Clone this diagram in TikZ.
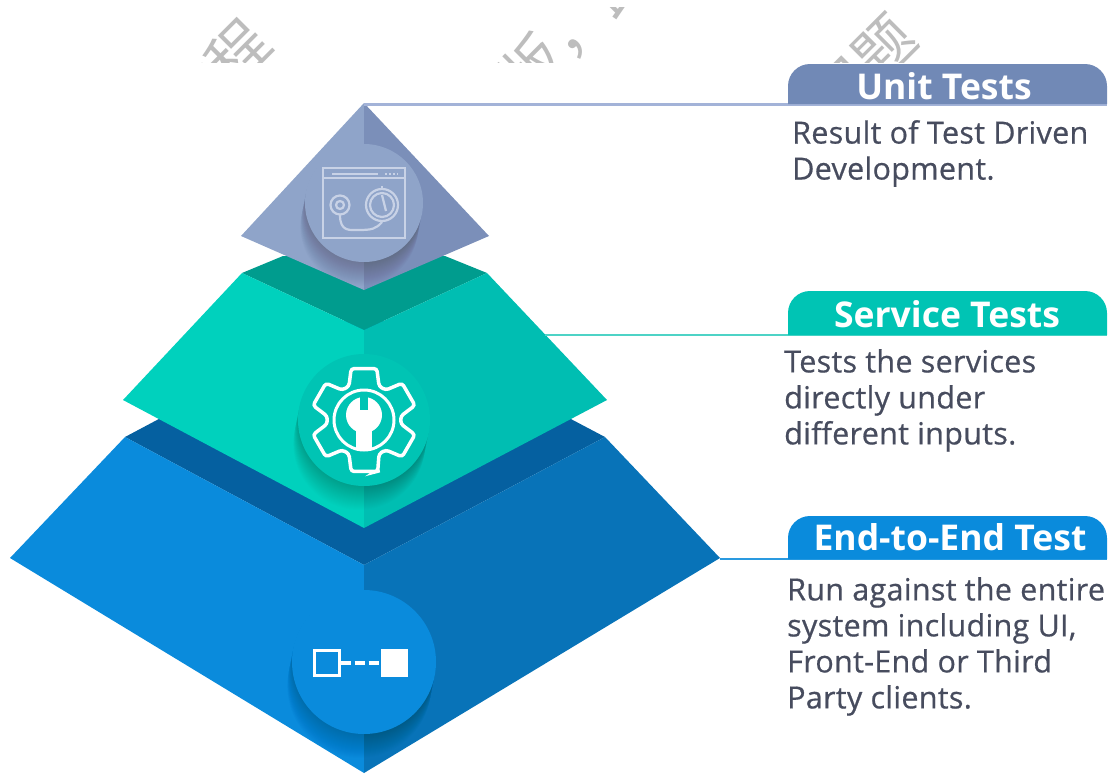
\documentclass[tikz,border=0pt]{standalone}
\usepackage{fontspec}
\setmainfont{Open Sans}
\newfontfamily\blurbfont{Open Sans}[FakeBold=0.6,LetterSpace=1]
\newfontfamily\cjkfont{Noto Sans CJK SC}
\usepackage{tikz}
\definecolor{unitlight}{HTML}{8FA4C9}
\definecolor{unitdark}{HTML}{7B8FB9}
\definecolor{unittag}{HTML}{7189B6}
\definecolor{unitline}{HTML}{A3B3D8}
\definecolor{unitband}{HTML}{C8D2E6}
\definecolor{servlight}{HTML}{00D1BD}
\definecolor{servdark}{HTML}{00BEB2}
\definecolor{servband}{HTML}{009C8E}
\definecolor{servdisc}{HTML}{00C4B4}
\definecolor{servline}{HTML}{4DD3C6}
\definecolor{endlight}{HTML}{0A8BDC}
\definecolor{enddark}{HTML}{0873B8}
\definecolor{endband}{HTML}{0560A0}
\definecolor{endline}{HTML}{2A9AE0}
\definecolor{bodytext}{HTML}{474C5E}

\begin{document}
\begin{tikzpicture}
    [ x=1pt, y=-1pt
    , heading/.style={text=white, font=\fontsize{35.5}{35.5}\selectfont\bfseries, anchor=center}
    , blurb/.style={text=bodytext, font=\fontsize{30.5}{36}\selectfont\blurbfont, align=left, anchor=north west, inner sep=0pt, text depth=0pt}
    , faint/.style={text=black!26, rotate=45, font=\fontsize{60}{60}\selectfont\cjkfont}
    , iconline/.style={draw=unitband, line width=2.2pt}
    , iconbox/.style={draw=white, line width=2.4pt, minimum size=25pt, inner sep=0pt}
    ]
\useasboundingbox (0,0) rectangle (1111,774);

% faint marks along the top
\begin{scope}
  \clip (150,7) rectangle (950,62);
  \node[faint] (markone) at (216,73) {教程};
  \node[faint] (marktwo) at (575,25) {版，此};
  \node[faint] (markthree) at (863,69) {问题};
\end{scope}

% lowest tier
\fill[endband] (125,437) -- (364,310) -- (605,437) -- (364,565) -- cycle;
\fill[endlight] (125,437) -- (10,558) -- (364,773) -- (364,565) -- cycle;
\fill[enddark] (364,565) -- (605,437) -- (720,558) -- (364,773) -- cycle;
\begin{scope}
  \clip (10,558) -- (364,343) -- (720,558) -- (364,773) -- cycle;
  \foreach \r in {1,...,24}
    \fill[black, opacity=0.007] (364-0.2*\r,662+\r) circle[radius=72pt];
  \fill[endlight] (364,662) circle[radius=72pt];
\end{scope}

% middle tier
\fill[servband] (242,273) -- (283,256) -- (445,256) -- (487,273) -- (364,330) -- cycle;
\fill[servlight] (242,273) -- (123,400) -- (364,528) -- (364,330) -- cycle;
\fill[servdark] (364,330) -- (487,273) -- (607,400) -- (364,528) -- cycle;
\begin{scope}
  \clip (123,400) -- (242,273) -- (364,330) -- (487,273) -- (607,400) -- (364,528) -- cycle;
  \foreach \r in {1,...,24}
    \fill[black, opacity=0.006] (364-0.2*\r,420+\r) circle[radius=66pt];
  \fill[servdisc] (364,420) circle[radius=66pt];
\end{scope}

% top tier
\fill[unitlight] (364,103) -- (241,236) -- (364,290) -- cycle;
\fill[unitdark] (364,103) -- (489,236) -- (364,290) -- cycle;
\begin{scope}
  \clip (364,103) -- (241,236) -- (364,290) -- (489,236) -- cycle;
  \foreach \r in {1,...,24}
    \fill[black, opacity=0.007] (364-0.2*\r,203+\r) circle[radius=59pt];
  \fill[unitlight] (364,203) circle[radius=59pt];
\end{scope}

% labels on the right
\coordinate (unitfoot) at (1107,104.5);
\coordinate (servfoot) at (1107,335);
\coordinate (endfoot) at (1107,559);
\coordinate (unittip) at (364,104.5);
\coordinate (servtip) at (545,335);
\coordinate (endtip) at (720,559);
\draw[unitline, line width=3pt] (unittip) -- (unitfoot);
\draw[servline, line width=2.5pt] (servtip) -- (servfoot);
\draw[endline, line width=2.5pt] (endtip) -- (endfoot);
\fill[unittag] (788,104) [rounded corners=22pt] -- (788,64) -- (1107,64) [sharp corners] -- (1107,104) -- cycle;
\fill[servdisc] (788,335) [rounded corners=22pt] -- (788,291) -- (1107,291) [sharp corners] -- (1107,335) -- cycle;
\fill[endlight] (788,559) [rounded corners=22pt] -- (788,516) -- (1107,516) [sharp corners] -- (1107,559) -- cycle;
\node[heading] (unithead) at (944,86) {Unit Tests};
\node[heading] (servhead) at (947,314) {Service Tests};
\node[heading] (endhead) at (950,537) {End-to-End Test};
\node[blurb] (unitblurb) at (792,120) {Result of Test Driven\\Development.};
\node[blurb] (servblurb) at (784,349) {Tests the services\\directly under\\different inputs.};
\node[blurb] (endblurb) at (787,577) {Run against the entire\\system including UI,\\Front-End or Third\\Party clients.};

% stopwatch window
\draw[iconline] (323,168) rectangle (405,238);
\draw[iconline] (323,178) -- (405,178);
\draw[iconline] (332,174) -- (378,174);
\draw[iconline, dash pattern=on 2pt off 2pt] (385,174) -- (398,174);
\draw[iconline] (340,205) circle[radius=9.5pt];
\draw[iconline] (340,205) circle[radius=4pt];
\draw[iconline] (382,205) circle[radius=16pt];
\draw[iconline] (382,205) circle[radius=12pt];
\draw[iconline] (382,189) -- (382,186);
\draw[iconline] (382,195) -- (386,211);
\draw[iconline] (340,215) .. controls (340,232) and (350,230) .. (358,230) .. controls (372,230) and (376,229) .. (382,222);

% gear
\begin{scope}[shift={(364,420)}]
  \draw[white, line width=3.5pt, rounded corners=3pt] (75:53)
    \foreach \a in {90,150,...,390} {
      -- (\a-14:53) -- (\a+14:53) -- (\a+24:37) -- (\a+36:37)
    } -- cycle;
  \draw[white, line width=3pt] (0,0) circle[radius=30pt];
  \fill[white] (0,-5) circle[radius=18pt];
  \fill[white] (-8,-5) rectangle (8,29);
  \fill[servdisc] (-4,-26) rectangle (4,-10);
\end{scope}

% two boxes
\node[iconbox] (boxleft) at (327,663) {};
\node[iconbox, fill=white] (boxright) at (394.5,663) {};
\draw[white, line width=3.5pt, dash pattern=on 10pt off 4pt] (boxleft) -- (boxright);
\end{tikzpicture}
\end{document}
